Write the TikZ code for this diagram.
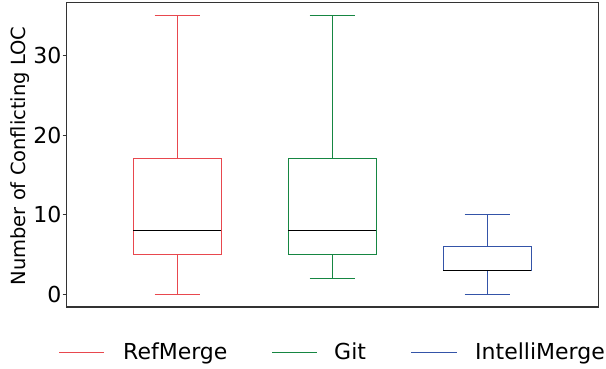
\documentclass[tikz,border=0pt]{standalone}
\usepackage{fontspec}
\setmainfont{DejaVu Sans}
\usetikzlibrary{positioning}
\definecolor{rmred}{RGB}{232,72,78}
\definecolor{gitgreen}{RGB}{22,134,66}
\definecolor{imblue}{RGB}{52,84,168}
\definecolor{framegray}{RGB}{51,51,51}
\begin{document}
\begin{tikzpicture}[x=1pt,y=-1pt,font=\fontsize{22}{26}\selectfont,
  frame/.style={draw=framegray,line width=1.3pt},
  whisk/.style={line width=1pt},
  tick/.style={anchor=east,inner sep=0pt},
  legtxt/.style={anchor=base west,inner sep=0pt}]
\useasboundingbox (0,0) rectangle (606,368);
\draw[frame] (66.5,2.5) rectangle (598.5,307);
% y axis
\foreach \v in {0,10,20,30}{
  \draw[framegray,line width=1pt] (62.5,294-7.95*\v) -- (66.5,294-7.95*\v);
  \node[tick] (t\v) at (61.5,294-7.95*\v) {\v};
}
\node[rotate=90,font=\fontsize{19.5}{23}\selectfont] (ylab) at (20,156) {Number of Conflicting LOC};
% boxes: centre/colour/min/q1/median/q3/max
\begin{scope}[shift={(0,294)},y=7.95pt]
\foreach \cx/\col/\lo/\qa/\md/\qb/\hi in {177/rmred/0/5/8/17/35,332/gitgreen/2/5/8/17/35,487/imblue/0/3/3/6/10}{
  \draw[\col,whisk] (\cx-44,\qa) rectangle (\cx+44,\qb);
  \draw[\col,whisk] (\cx,\qb) -- (\cx,\hi) (\cx-22.5,\hi) -- (\cx+22.5,\hi);
  \draw[\col,whisk] (\cx,\qa) -- (\cx,\lo) (\cx-22.5,\lo) -- (\cx+22.5,\lo);
  \draw[black,line width=0.8pt] (\cx-44,\md) -- (\cx+44,\md);
}
\end{scope}
% legend
\coordinate (l1a) at (59,352); \coordinate (l1b) at (104,352);
\coordinate (l2a) at (272,352); \coordinate (l2b) at (317,352);
\coordinate (l3a) at (411,352); \coordinate (l3b) at (457,352);
\draw[rmred,whisk] (l1a) -- (l1b);
\draw[gitgreen,whisk] (l2a) -- (l2b);
\draw[imblue,whisk] (l3a) -- (l3b);
\node[legtxt] (leg1) at (123,359.5) {RefMerge};
\node[legtxt] (leg2) at (334,359.5) {Git};
\node[legtxt] (leg3) at (475,359.5) {IntelliMerge};
\end{tikzpicture}
\end{document}
